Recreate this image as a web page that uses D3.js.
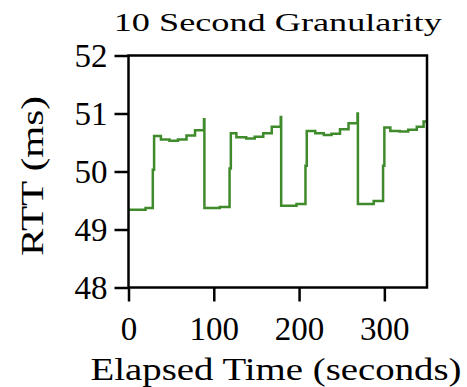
<!DOCTYPE html>
<html>
<head>
<meta charset="utf-8">
<script src="https://cdn.jsdelivr.net/npm/d3@7"></script>
<style>
  html, body { margin: 0; padding: 0; background: #ffffff; }
  svg { display: block; }
  text { font-family: "Liberation Serif", "Times New Roman", serif; fill: #000; }
</style>
</head>
<body>
<svg id="chart" width="467" height="387"></svg>
<script>
// RTT samples (step start time in seconds, value in ms)
const sampleTimes = [
  0, 20, 28.5, 30, 38, 48, 58, 68, 78, 88.5,
  89, 107, 118.5, 120, 126.5, 138, 148, 158, 168, 178.5,
  179, 197, 207.5, 209, 219, 229, 238, 248, 258, 268.5,
  269, 287.5, 298.5, 300, 307, 318, 328, 338, 346, 350
];
const rttValues = [
  49.34, 49.37, 50.03, 50.61, 50.55, 50.53, 50.55, 50.62, 50.71, 50.90,
  49.37, 49.39, 50.05, 50.66, 50.59, 50.57, 50.60, 50.66, 50.77, 50.94,
  49.41, 49.44, 50.10, 50.70, 50.66, 50.63, 50.65, 50.73, 50.83, 51.00,
  49.44, 49.49, 50.10, 50.76, 50.70, 50.69, 50.72, 50.77, 50.86, 50.86
];
const xTicks = [0, 100, 200, 300];
const yTicks = [48, 49, 50, 51, 52];
const xDomain = [0, 350];
const yDomain = [48, 52];
const chartTitle = "10 Second Granularity";
const xLabel = "Elapsed Time (seconds)";
const yLabel = "RTT (ms)";

const svg = d3.select("#chart");
const plot = { left: 128.5, right: 427, top: 55.5, bottom: 287.5 };

const x = d3.scaleLinear().domain(xDomain).range([plot.left, plot.right]);
const y = d3.scaleLinear().domain(yDomain).range([plot.bottom, plot.top]);

const points = sampleTimes.map((t, i) => ({ t, v: rttValues[i] }));

svg.append("clipPath").attr("id", "plot-clip")
  .append("rect")
  .attr("x", plot.left).attr("y", plot.top)
  .attr("width", plot.right - plot.left).attr("height", plot.bottom - plot.top);

// step line
const line = d3.line()
  .x(d => x(d.t))
  .y(d => y(d.v))
  .curve(d3.curveStepAfter);

svg.append("path")
  .datum(points)
  .attr("clip-path", "url(#plot-clip)")
  .attr("fill", "none")
  .attr("stroke", "#3f8a2b")
  .attr("stroke-width", 2.5)
  .attr("stroke-linejoin", "miter")
  .attr("d", line);

// axes
const tickFont = 33;
const xAxis = svg.append("g")
  .attr("transform", `translate(0,${plot.bottom})`)
  .call(d3.axisBottom(x).tickValues(xTicks).tickSize(14).tickFormat(d3.format("d")));
xAxis.select(".domain").remove();
xAxis.selectAll(".tick line").attr("stroke", "#000").attr("stroke-width", 2.5);
xAxis.selectAll(".tick text")
  .attr("y", 52.5).attr("dy", null)
  .style("font-size", tickFont + "px")
  .style("font-family", "Liberation Serif");

const yAxis = svg.append("g")
  .attr("transform", `translate(${plot.left},0)`)
  .call(d3.axisLeft(y).tickValues(yTicks).tickSize(14).tickFormat(d3.format("d")));
yAxis.select(".domain").remove();
yAxis.selectAll(".tick line").attr("stroke", "#000").attr("stroke-width", 2.5);
yAxis.selectAll(".tick text")
  .attr("x", -21).attr("dy", "0.32em")
  .style("font-size", tickFont + "px")
  .style("font-family", "Liberation Serif");

// frame
svg.append("rect")
  .attr("x", plot.left).attr("y", plot.top)
  .attr("width", plot.right - plot.left).attr("height", plot.bottom - plot.top)
  .attr("fill", "none").attr("stroke", "#000").attr("stroke-width", 2.5);

const midX = (plot.left + plot.right) / 2;

// title
svg.append("text")
  .attr("x", midX).attr("y", 31)
  .attr("text-anchor", "middle")
  .attr("textLength", 328).attr("lengthAdjust", "spacingAndGlyphs")
  .style("font-size", "26px")
  .text(chartTitle);

// x label
svg.append("text")
  .attr("x", 276).attr("y", 380)
  .attr("text-anchor", "middle")
  .attr("textLength", 371).attr("lengthAdjust", "spacingAndGlyphs")
  .style("font-size", "32px")
  .text(xLabel);

// y label
svg.append("text")
  .attr("transform", `translate(43,176) rotate(-90)`)
  .attr("text-anchor", "middle")
  .attr("textLength", 160).attr("lengthAdjust", "spacingAndGlyphs")
  .style("font-size", "31px")
  .text(yLabel);
</script>
</body>
</html>
